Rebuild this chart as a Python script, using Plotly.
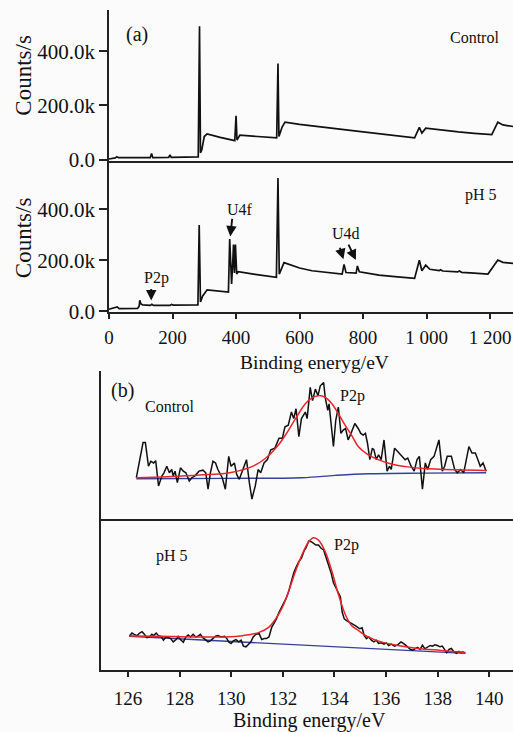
import plotly.graph_objects as go

# ---------------- (a) XPS survey spectra ----------------
ctrl_survey_ev = [0, 12, 20, 25, 30, 130, 134, 138, 188, 192, 196, 281, 285, 288, 292, 300, 309, 350, 396, 400,
                  403, 412, 470, 528, 532, 535, 545, 554, 600, 639, 700, 800, 900, 962, 977, 985, 997, 1050,
                  1100, 1150, 1205, 1224, 1240, 1272]
ctrl_survey_counts = [2000, 4000, 6000, 10000, 7000, 7000, 22000, 7000, 8000, 17000, 8000, 10000, 492000, 25000,
                      35000, 85000, 95000, 82000, 70000, 162000, 72000, 90000, 85000, 80000, 355000, 85000, 120000,
                      138000, 130000, 124000, 116000, 102000, 88000, 80000, 119000, 98000, 116000, 108000, 102000,
                      97000, 92000, 138000, 128000, 122000]

ph5_survey_ev = [0, 12, 26, 32, 90, 95, 97, 100, 106, 130, 135, 140, 192, 197, 202, 280, 284, 288, 295, 309, 340,
                 376, 380, 386, 390, 392, 395, 398, 402, 407, 460, 527, 532, 536, 551, 600, 639, 700, 734, 740,
                 746, 778, 782, 788, 850, 900, 962, 977, 985, 997, 1010, 1040, 1044, 1050, 1098, 1103, 1110,
                 1150, 1193, 1224, 1240, 1272]
ph5_survey_counts = [8000, 12000, 17000, 10000, 11000, 20000, 43000, 30000, 25000, 23000, 27000, 23000, 23000,
                     27000, 24000, 25000, 339000, 36000, 60000, 84000, 80000, 75000, 284000, 107000, 200000, 262000,
                     150000, 262000, 146000, 155000, 145000, 133000, 523000, 146000, 191000, 170000, 159000, 152000,
                     146000, 184000, 152000, 150000, 178000, 155000, 142000, 136000, 129000, 200000, 159000, 181000,
                     165000, 160000, 163000, 158000, 155000, 158000, 153000, 150000, 146000, 201000, 192000, 188000]

survey_tickvals = [0, 200, 400, 600, 800, 1000, 1200]
survey_ticktext = ["0", "200", "400", "600", "800", "1 000", "1 200"]
counts_tickvals = [0, 200000, 400000]
counts_ticktext = ["0.0", "200.0k", "400.0k"]

# ---------------- (b) P2p high-resolution spectra ----------------
ctrl_p2p_ev = [126.32, 126.58, 126.67, 126.79, 126.88, 126.99, 127.07, 127.18, 127.31, 127.39, 127.50, 127.60,
               127.69, 127.75, 127.82, 127.91, 128.03, 128.14, 128.24, 128.37, 128.47, 128.58, 128.75, 128.90,
               129.01, 129.10, 129.19, 129.29, 129.39, 129.48, 129.65, 129.77, 129.90, 129.99, 130.12, 130.21,
               130.31, 130.41, 130.50, 130.59, 130.70, 130.80, 130.93, 131.04, 131.14, 131.27, 131.40, 131.53,
               131.69, 131.85, 131.98, 132.08, 132.21, 132.33, 132.42, 132.51, 132.62, 132.72, 132.87, 132.94,
               133.06, 133.15, 133.26, 133.36, 133.45, 133.58, 133.64, 133.74, 133.79, 133.87, 133.96, 134.05,
               134.15, 134.25, 134.34, 134.43, 134.53, 134.64, 134.79, 134.92, 135.02, 135.11, 135.20, 135.28,
               135.37, 135.47, 135.53, 135.62, 135.71, 135.81, 135.92, 136.04, 136.13, 136.20, 136.33, 136.45,
               136.58, 136.74, 136.84, 136.97, 137.09, 137.20, 137.29, 137.41, 137.52, 137.61, 137.73, 137.86,
               138.05, 138.18, 138.27, 138.37, 138.53, 138.66, 138.76, 138.89, 139.01, 139.21, 139.33, 139.46,
               139.56, 139.65, 139.76, 139.88]
ctrl_p2p_raw = [1050, 2120, 2120, 1400, 1550, 1500, 1570, 800, 1100, 1200, 1400, 1200,
                1300, 1100, 1250, 900, 1350, 1250, 1200, 950, 1050, 1100, 1250, 1280,
                1200, 700, 1200, 1550, 1500, 1300, 1050, 700, 1700, 1400, 1500, 1150,
                1000, 1200, 1400, 1600, 900, 400, 800, 1300, 1200, 1500, 1600, 1900,
                1950, 2250, 2250, 2600, 2650, 3050, 2850, 3150, 2300, 2850, 3050, 2850,
                3800, 3400, 3750, 3550, 3850, 3950, 3500, 3100, 3300, 2750, 2000, 2800,
                3200, 2400, 2500, 2550, 2200, 2400, 2700, 2550, 2400, 2350, 2400, 2100,
                1600, 1950, 1900, 1600, 1750, 1600, 2200, 1250, 1400, 1300, 1950, 1850,
                1750, 1600, 1650, 1400, 1250, 1600, 1700, 700, 1500, 1300, 1600, 1700,
                2200, 1250, 1400, 1700, 1700, 1300, 1200, 1300, 1200, 2000, 1800, 1800,
                1600, 1400, 1500, 1250]
ctrl_fit_ev = [126.32, 127.50, 128.78, 129.99, 130.89, 131.34, 131.78, 132.10, 132.49, 132.87, 133.13, 133.38,
               133.64, 133.90, 134.15, 134.41, 134.66, 134.92, 135.30, 135.69, 136.20, 136.84, 137.48, 138.76,
               139.88]
ctrl_fit = [1050, 1080, 1130, 1210, 1420, 1650, 2000, 2350, 2850, 3300, 3480, 3550,
            3500, 3300, 3000, 2650, 2350, 2000, 1750, 1600, 1470, 1380, 1330, 1290, 1270]
ctrl_bg_ev = [126.32, 129.80, 132.74, 134.02, 135.30, 137.48, 139.88]
ctrl_bg = [1020, 1030, 1050, 1120, 1170, 1190, 1200]

ph5_p2p_ev = [126.05, 126.15, 126.24, 126.35, 126.45, 126.54, 126.63, 126.73, 126.83, 126.92, 126.99, 127.09,
              127.18, 127.28, 127.37, 127.47, 127.56, 127.65, 127.75, 127.86, 127.94, 128.03, 128.14, 128.24,
              128.33, 128.42, 128.52, 128.62, 128.71, 128.80, 128.90, 129.01, 129.10, 129.19, 129.29, 129.39,
              129.48, 129.61, 129.74, 129.83, 129.90, 129.99, 130.08, 130.18, 130.29, 130.38, 130.47, 130.57,
              130.67, 130.76, 130.85, 130.95, 131.08, 131.18, 131.27, 131.36, 131.46, 131.57, 131.66, 131.75,
              131.85, 131.95, 132.04, 132.13, 132.23, 132.33, 132.42, 132.51, 132.62, 132.72, 132.82, 132.90,
              133.00, 133.10, 133.19, 133.28, 133.38, 133.48, 133.58, 133.67, 133.77, 133.87, 133.96, 134.06,
              134.15, 134.23, 134.30, 134.38, 134.47, 134.56, 134.66, 134.79, 134.89, 134.98, 135.07, 135.15,
              135.24, 135.33, 135.43, 135.53, 135.62, 135.71, 135.81, 135.92, 136.01, 136.10, 136.20, 136.33,
              136.45, 136.58, 136.71, 136.84, 136.94, 137.03, 137.12, 137.22, 137.32, 137.41, 137.50, 137.61,
              137.71, 137.80, 137.89, 137.99, 138.09, 138.18, 138.27, 138.35, 138.44, 138.53, 138.63, 138.73,
              138.82, 138.91, 139.01]
ph5_p2p_raw = [1620, 1720, 1680, 1640, 1720, 1760, 1680, 1580, 1600, 1680, 1640, 1720,
               1640, 1620, 1500, 1600, 1580, 1550, 1450, 1520, 1620, 1520, 1440, 1600,
               1660, 1600, 1680, 1600, 1620, 1680, 1580, 1500, 1450, 1480, 1550, 1620,
               1640, 1600, 1620, 1550, 1450, 1400, 1480, 1520, 1450, 1500, 1320, 1300,
               1380, 1450, 1600, 1680, 1700, 1520, 1550, 1550, 1600, 1900, 2020, 2150,
               2350, 2520, 2620, 2780, 3000, 3300, 3550, 3720, 3900, 4000, 4220, 4320,
               4520, 4500, 4440, 4400, 4400, 4300, 4250, 4050, 3800, 3550, 3250, 3100,
               2950, 2820, 2350, 2150, 2100, 2050, 2000, 1950, 1900, 1850, 1880, 1650,
               1550, 1600, 1500, 1450, 1500, 1400, 1420, 1380, 1420, 1340, 1380, 1320,
               1360, 1450, 1380, 1300, 1220, 1200, 1240, 1280, 1220, 1350, 1240, 1300,
               1340, 1320, 1360, 1340, 1300, 1320, 1220, 1120, 1220, 1250, 1150, 1100,
               1160, 1120, 1150]
ph5_fit_ev = [126.05, 127.24, 128.52, 129.80, 130.44, 131.08, 131.46, 131.72, 131.98, 132.23, 132.49, 132.74,
              133.00, 133.19, 133.38, 133.64, 133.90, 134.15, 134.41, 134.66, 134.92, 135.30, 135.81, 136.45,
              137.22, 138.12, 139.08]
ph5_fit = [1630, 1620, 1600, 1600, 1640, 1740, 1900, 2150, 2500, 3000, 3600, 4100,
           4500, 4620, 4550, 4200, 3600, 2900, 2300, 1950, 1800, 1600, 1450, 1340,
           1250, 1190, 1130]
ph5_bg_ev = [126.05, 139.08]
ph5_bg = [1620, 1100]

p2p_tickvals = [126, 128, 130, 132, 134, 136, 138, 140]

# ---------------- styling ----------------
W, H = 513, 732
SERIF = "Liberation Serif"
BLACK = "#111111"
RED = "#e8252a"
BLUE = "#35409a"
BG = "#fbfbfb"


def px(x):
    return x / W


def py(y):
    return 1 - y / H


fig = go.Figure()

fig.add_trace(go.Scatter(x=ctrl_survey_ev, y=ctrl_survey_counts, mode="lines",
                         line=dict(color=BLACK, width=1.7), xaxis="x", yaxis="y"))
fig.add_trace(go.Scatter(x=ph5_survey_ev, y=ph5_survey_counts, mode="lines",
                         line=dict(color=BLACK, width=1.7), xaxis="x2", yaxis="y2"))

fig.add_trace(go.Scatter(x=ctrl_bg_ev, y=ctrl_bg, mode="lines", line=dict(color=BLUE, width=1.4, shape="spline"),
                         xaxis="x3", yaxis="y3"))
fig.add_trace(go.Scatter(x=ctrl_p2p_ev, y=ctrl_p2p_raw, mode="lines", line=dict(color=BLACK, width=1.5),
                         xaxis="x3", yaxis="y3"))
fig.add_trace(go.Scatter(x=ctrl_fit_ev, y=ctrl_fit, mode="lines", line=dict(color=RED, width=1.5, shape="spline"),
                         xaxis="x3", yaxis="y3"))

fig.add_trace(go.Scatter(x=ph5_bg_ev, y=ph5_bg, mode="lines", line=dict(color=BLUE, width=1.4),
                         xaxis="x4", yaxis="y4"))
fig.add_trace(go.Scatter(x=ph5_p2p_ev, y=ph5_p2p_raw, mode="lines", line=dict(color=BLACK, width=1.5),
                         xaxis="x4", yaxis="y4"))
fig.add_trace(go.Scatter(x=ph5_fit_ev, y=ph5_fit, mode="lines", line=dict(color=RED, width=1.5, shape="spline"),
                         xaxis="x4", yaxis="y4"))

axis_common = dict(showline=True, linecolor="#222222", linewidth=1.7, showgrid=False, zeroline=False,
                   tickcolor="#222222", tickwidth=1.5, tickfont=dict(family=SERIF, size=19, color=BLACK))
ytick_font = dict(family=SERIF, size=21, color=BLACK)

xa_dom = [px(105), 1]
xb_dom = [px(97), 1]
survey_range = [0, 1271.8]
p2p_range = [124.952, 140.92]

fig.update_layout(
    width=W, height=H, margin=dict(l=0, r=0, t=0, b=0),
    paper_bgcolor=BG, plot_bgcolor=BG, showlegend=False,
    xaxis=dict(domain=xa_dom, range=survey_range, anchor="y", ticks="", showticklabels=False, **axis_common),
    yaxis=dict(domain=[py(163), py(10)], range=[-3636, 552700], anchor="x", ticks="outside", ticklen=8,
               tickvals=counts_tickvals, ticktext=counts_ticktext,
               **{**axis_common, "tickfont": ytick_font}),
    xaxis2=dict(domain=xa_dom, range=survey_range, anchor="y2", ticks="outside", ticklen=5, ticklabelstandoff=2,
                tickvals=survey_tickvals, ticktext=survey_ticktext, **axis_common),
    yaxis2=dict(domain=[py(317), py(163)], range=[-3868, 591800], anchor="x2", ticks="outside", ticklen=8,
                tickvals=counts_tickvals, ticktext=counts_ticktext,
                **{**axis_common, "tickfont": ytick_font}),
    xaxis3=dict(domain=xb_dom, range=p2p_range, anchor="y3", ticks="", showticklabels=False, **axis_common),
    yaxis3=dict(domain=[py(527), py(377)], range=[-210, 4290], anchor="x3", ticks="", showticklabels=False,
                **axis_common),
    xaxis4=dict(domain=xb_dom, range=p2p_range, anchor="y4", ticks="outside", ticklen=5, ticklabelstandoff=6,
                tickvals=p2p_tickvals, **axis_common),
    yaxis4=dict(domain=[py(680), py(527)], range=[600, 5190], anchor="x4", ticks="", showticklabels=False,
                **axis_common),
)

ann = []


def text(t, x, y, size=16, angle=0):
    ann.append(dict(text=t, x=px(x), y=py(y), xref="paper", yref="paper", showarrow=False,
                    xanchor="center", yanchor="middle", textangle=angle,
                    font=dict(family=SERIF, size=size, color=BLACK)))


text("(a)", 133, 35, 20)
text("Control", 474, 38)
text("pH 5", 480.5, 197.5)
text("P2p", 152.5, 282.5)
text("U4f", 237.5, 212.5)
text("U4d", 344, 237.5)
text("Binding eneryg/eV", 313, 368, 19.5)
text("Counts/s", 19, 76, 23, -90)
text("Counts/s", 19, 241, 23, -90)
text("(b)", 119, 396, 20)
text("Control", 166, 413)
text("P2p", 351, 402)
text("pH 5", 168.5, 564)
text("P2p", 344.5, 553)
text("Binding energy/eV", 307, 731, 20)


def arrow(x, y, ax, ay):
    ann.append(dict(text="", x=x, y=y, xref="x2", yref="y2", ax=ax, ay=ay, axref="pixel", ayref="pixel",
                    showarrow=True, arrowhead=2, arrowsize=1.1, arrowwidth=1.9, arrowcolor=BLACK, standoff=0))


arrow(133, 42500, 0, -13)
arrow(382, 294000, 2, -19)
arrow(738, 204000, -4, -13)
arrow(777, 201000, -8, -17)

fig.update_layout(annotations=ann)
fig.write_html("out.html")
